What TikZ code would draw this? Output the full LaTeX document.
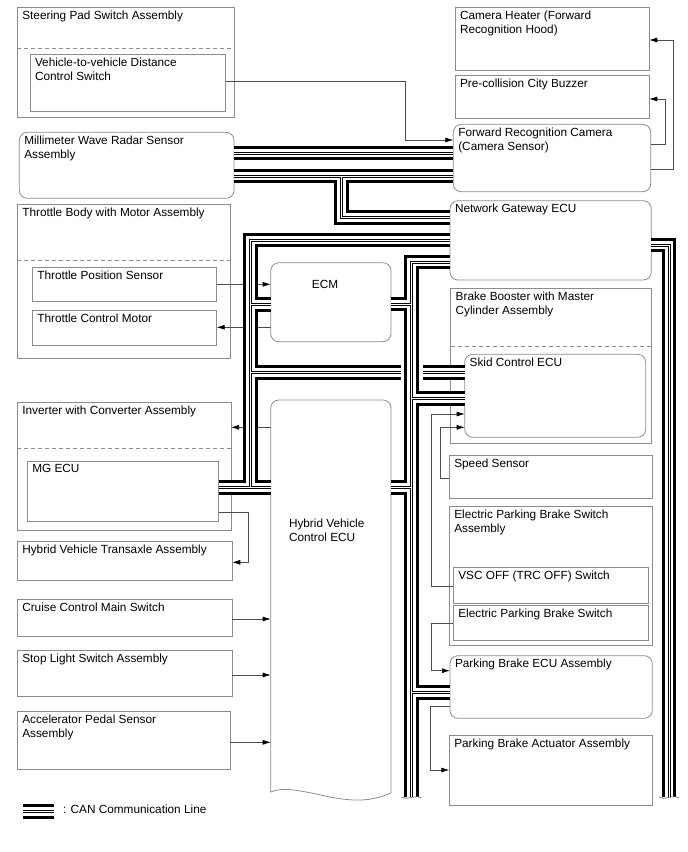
\documentclass[tikz,border=0pt]{standalone}
\usepackage{fontspec}
\setmainfont{Liberation Sans}
\usetikzlibrary{arrows.meta}
\begin{document}
\begin{tikzpicture}[x=1pt,y=-1pt,
  box/.style={draw=black!45, line width=0.8pt, rectangle, inner sep=0pt, outer sep=0pt},
  rbox/.style={box, rounded corners=8pt},
  lbl/.style={inner sep=0pt, outer sep=0pt, align=left, font=\fontsize{11.8}{14}\selectfont},
  sig/.style={draw=black!70, line width=0.7pt, -{Latex[length=8pt,width=5pt,color=black]}},
  dsh/.style={draw=black!45, line width=0.8pt, dash pattern=on 4pt off 3pt},
  busA/.style={line width=14.6pt, black, line join=miter},
  busB/.style={line width=8.4pt, white, line join=miter},
  busC/.style={line width=3pt, black, line join=miter},
  busD/.style={line width=1pt, white, line join=miter},
  brk/.style={draw=black!55, line width=0.7pt},
]
\useasboundingbox (0,0) rectangle (688,852);
\newcommand{\bx}[7]{%
  \node[#1, minimum width=#5pt, minimum height=#6pt, anchor=north west] (#2) at (#3,#4) {};
  \node[lbl, anchor=north west] (#2t) at ([xshift=5pt,yshift=-3.5pt]#2.north west) {#7};}

% left column
\bx{box}{spsa}{17.3}{7.3}{216.7}{110}{Steering Pad Switch Assembly}
\draw[dsh] (spsa.west |- 0,48.3) -- (spsa.east |- 0,48.3);
\bx{box}{vdcs}{30}{54.3}{195.7}{56.7}{Vehicle-to-vehicle Distance\\Control Switch}
\bx{rbox}{radar}{19.3}{132.3}{214.7}{66}{Millimeter Wave Radar Sensor\\Assembly}
\bx{box}{tbma}{17.3}{204}{213.4}{154.3}{Throttle Body with Motor Assembly}
\draw[dsh] (tbma.west |- 0,260.7) -- (tbma.east |- 0,260.7);
\bx{box}{tps}{32.3}{267.3}{184.4}{34.4}{Throttle Position Sensor}
\bx{box}{tcm}{32.3}{310.7}{184.4}{34.3}{Throttle Control Motor}
\bx{box}{icva}{17.3}{402.3}{213.7}{127.7}{Inverter with Converter Assembly}
\draw[dsh] (icva.west |- 0,448.3) -- (icva.east |- 0,448.3);
\bx{box}{mgecu}{27.3}{461}{191.4}{60.7}{MG ECU}
\bx{box}{hvta}{17.3}{541.7}{215}{38.3}{Hybrid Vehicle Transaxle Assembly}
\bx{box}{ccms}{17.3}{599}{215}{37.7}{Cruise Control Main Switch}
\bx{box}{slsa}{17.3}{650.7}{215}{46}{Stop Light Switch Assembly}
\bx{box}{apsa}{17.3}{711.7}{212.7}{57.6}{Accelerator Pedal Sensor\\Assembly}

% middle
\node[rbox, minimum width=120.3pt, minimum height=79pt, anchor=north west] (ecm) at (270.7,262.7) {};
\node[lbl] (ecmt) at (325,284) {ECM};
\node[inner sep=0pt, outer sep=0pt, minimum width=120.3pt, minimum height=392pt, anchor=north west] (hvecu) at (270.7,400) {};
\draw[draw=black!45, line width=0.8pt] (270.7,792) -- (270.7,408) arc[start angle=180, end angle=90, radius=8pt] -- (383,400)
  arc[start angle=90, end angle=0, radius=8pt] -- (391,793)
  .. controls (372,801) and (356,802) .. (330,797) .. controls (306,792) and (284,786) .. cycle;
\node[lbl, anchor=north west] (hvecut) at (289,519) {Hybrid Vehicle\\Control ECU};

% right column
\bx{box}{heater}{455}{7.3}{194.3}{62.7}{Camera Heater (Forward\\Recognition Hood)}
\bx{box}{buzzer}{455}{75.7}{194.3}{42.6}{Pre-collision City Buzzer}
\bx{rbox}{camera}{453.3}{124.3}{197.4}{67.4}{Forward Recognition Camera\\(Camera Sensor)}
\bx{rbox}{gw}{450}{200.7}{201.3}{79.3}{Network Gateway ECU}
\bx{box}{bbmc}{450.7}{288.3}{200.6}{155}{Brake Booster with Master\\Cylinder Assembly}
\draw[dsh] (bbmc.west |- 0,346) -- (bbmc.east |- 0,346);
\bx{rbox}{skid}{464.7}{354.3}{181}{83}{Skid Control ECU}
\bx{box}{speed}{449.3}{455}{203}{43.3}{Speed Sensor}
\bx{box}{epbsa}{449.3}{506.7}{203}{138.3}{Electric Parking Brake Switch\\Assembly}
\bx{box}{vsc}{453.3}{567.7}{195}{35.6}{VSC OFF (TRC OFF) Switch}
\bx{box}{epbs}{453.3}{605}{195}{35.7}{Electric Parking Brake Switch}
\bx{rbox}{pbecu}{450}{655.7}{202.3}{62.6}{Parking Brake ECU Assembly}
\bx{box}{pba}{449.3}{735}{203}{70}{Parking Brake Actuator Assembly}

% signal lines
\draw[sig] (vdcs.east |- 0,81) -- (405.7,81) -- (405.7,140) -- (camera.west |- 0,140);
\draw[sig] (camera.east |- 0,144) -- (665.7,144) -- (665.7,99) -- (buzzer.east |- 0,99);
\draw[sig] (camera.east |- 0,169.3) -- (673,169.3) -- (673,40) -- (heater.east |- 0,40);
\draw[sig] (tps.east |- 0,284.3) -- (ecm.west |- 0,284.3);
\draw[sig] (ecm.west |- 0,327.3) -- (tcm.east |- 0,327.3);
\draw[sig] (hvecu.west |- 0,427.3) -- (icva.east |- 0,427.3);
\draw[sig] (mgecu.east |- 0,512.7) -- (248.3,512.7) -- (248.3,562.3) -- (hvta.east |- 0,562.3);
\draw[sig] (ccms.east |- 0,619) -- (hvecu.west |- 0,619);
\draw[sig] (slsa.east |- 0,675) -- (hvecu.west |- 0,675);
\draw[sig] (apsa.east |- 0,742.3) -- (hvecu.west |- 0,742.3);
\draw[sig] (vsc.west |- 0,586.7) -- (431.3,586.7) -- (431.3,414) -- (skid.west |- 0,414);
\draw[sig] (speed.west |- 0,478.3) -- (440.7,478.3) -- (440.7,427.3) -- (skid.west |- 0,427.3);
\draw[sig] (epbs.west |- 0,623.3) -- (431.3,623.3) -- (431.3,670.7) -- (pbecu.west |- 0,670.7);
\draw[sig] (pbecu.west |- 0,706.7) -- (430.7,706.7) -- (430.7,770) -- (pba.west |- 0,770);

% CAN buses
\def\grpone{
  (radar.east |- 0,153) -- (camera.west |- 0,153)
  (radar.east |- 0,176) -- (camera.west |- 0,176)
  (341.5,176) -- (341.5,217.5) -- (gw.west |- 0,217.5)
  (gw.west |- 0,240) -- (250.5,240) -- (250.5,487.5)
  (250.5,304.5) -- (ecm.west |- 0,304.5)
  (250.5,372.5) -- (skid.west |- 0,372.5)
  (mgecu.east |- 0,487.5) -- (hvecu.west |- 0,487.5)
  (gw.east |- 0,245) -- (669,245) -- (669,797)
  (22.7,811.5) -- (54.3,811.5)
}
\def\grptwo{
  (gw.west |- 0,262) -- (411.5,262) -- (411.5,797)
  (ecm.east |- 0,304) -- (411.5,304)
  (411.5,398.5) -- (skid.west |- 0,398.5)
  (hvecu.east |- 0,487.5) -- (411.5,487.5)
  (411.5,692.5) -- (pbecu.west |- 0,692.5)
}
\foreach \st in {busA,busB,busC,busD} {\draw[\st] \grpone;}
\draw[white, line width=22pt] (411.5,362) -- (411.5,383);
\foreach \st in {busA,busB,busC,busD} {\draw[\st] \grptwo;}

% break marks
\coordinate (dend) at (411.5,797);
\coordinate (rend) at (669,797);
\draw[brk] ([xshift=-10pt]dend) .. controls ([xshift=-4pt,yshift=-4pt]dend) and ([xshift=3pt,yshift=3pt]dend) .. ([xshift=10pt,yshift=-1pt]dend);
\draw[brk] ([xshift=-10pt]rend) .. controls ([xshift=-4pt,yshift=-4pt]rend) and ([xshift=3pt,yshift=3pt]rend) .. ([xshift=10pt,yshift=-1pt]rend);

% legend
\node[lbl, anchor=west] (legt) at (63,809) {: CAN Communication Line};
\end{tikzpicture}
\end{document}
